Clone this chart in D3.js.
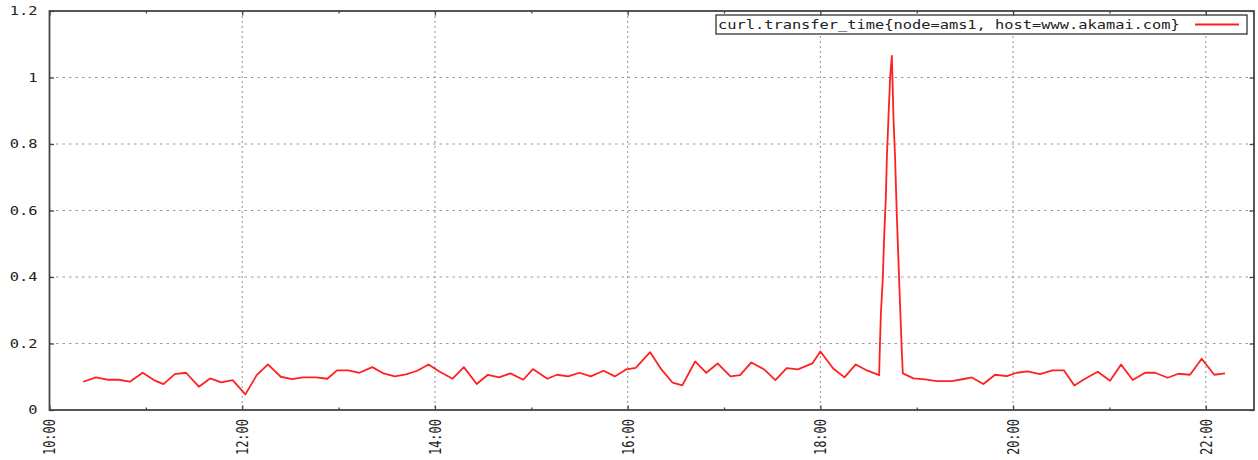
<!DOCTYPE html>
<html>
<head>
<meta charset="utf-8">
<script src="https://cdn.jsdelivr.net/npm/d3@7"></script>
<style>
  html, body { margin: 0; padding: 0; background: #fff; }
  svg { display: block; }
  text { font-family: "DejaVu Sans Mono", monospace; font-size: 12px; fill: #222; }
</style>
</head>
<body>
<svg id="chart" width="1258" height="460"></svg>
<script>
// ---- data ----
const seriesName = "curl.transfer_time{node=ams1, host=www.akamai.com}";
const times = [
  "10:21","10:29","10:36","10:43","10:50","10:58","11:05","11:11","11:18","11:25",
  "11:33","11:40","11:47","11:54","12:02","12:09","12:16","12:24","12:31","12:38",
  "12:46","12:53","12:59","13:06","13:13","13:21","13:28","13:35","13:42","13:49",
  "13:56","14:03","14:11","14:18","14:26","14:33","14:40","14:47","14:55","15:01",
  "15:10","15:16","15:23","15:30","15:37","15:45","15:52","15:59","16:05","16:14",
  "16:21","16:28","16:34","16:42","16:49","16:56","17:04","17:10","17:17","17:25",
  "17:32","17:39","17:46","17:55","18:00","18:08","18:15","18:22","18:29","18:36:36",
  "18:36:54","18:37:38","18:38:54","18:39:42","18:40:46","18:41:24","18:42:24","18:43:26","18:44:30","18:44:52",
  "18:45:30","18:46:32","18:47:36","18:48:36","18:49:40","18:50:43","18:51:20","18:57:56","19:05:14","19:12:30",
  "19:21:50","19:30:06","19:34:17","19:41:30","19:48:48","19:56:06","20:02:18","20:08:54","20:16:48","20:24:28",
  "20:31:44","20:38:08","20:44:48","20:52:42","21:00:22","21:07:14","21:14:30","21:22:10","21:28:24","21:36:18",
  "21:42:54","21:50:10","21:57:26","22:05:16","22:11:56"
];
const values = [
  0.085,0.098,0.091,0.091,0.085,0.112,0.090,0.078,0.108,0.112,
  0.070,0.095,0.083,0.090,0.047,0.105,0.137,0.100,0.093,0.098,
  0.098,0.094,0.119,0.119,0.112,0.129,0.110,0.101,0.107,0.118,
  0.137,0.115,0.094,0.129,0.078,0.106,0.098,0.110,0.091,0.123,
  0.094,0.106,0.101,0.112,0.101,0.118,0.101,0.122,0.127,0.174,
  0.122,0.082,0.074,0.146,0.112,0.140,0.101,0.105,0.143,0.122,
  0.090,0.126,0.122,0.140,0.176,0.125,0.098,0.137,0.119,0.105,
  0.165,0.285,0.400,0.520,0.640,0.760,0.880,1.000,1.065,1.000,
  0.880,0.755,0.585,0.450,0.310,0.175,0.110,0.095,0.092,0.087,
  0.087,0.094,0.098,0.078,0.106,0.102,0.112,0.116,0.108,0.119,
  0.119,0.074,0.094,0.115,0.088,0.137,0.090,0.112,0.112,0.097,
  0.109,0.106,0.154,0.106,0.110
];
const xDomain = ["10:00", "22:30"];
const xMajorTicks = ["10:00","12:00","14:00","16:00","18:00","20:00","22:00"];
const xMinorTicks = ["11:00","13:00","15:00","17:00","19:00","21:00"];
const yTicks = [0, 0.2, 0.4, 0.6, 0.8, 1, 1.2];
const yDomain = [0, 1.2];

// ---- chart ----
const parseFull = d3.timeParse("%H:%M:%S");
const parseT = s => parseFull(s.length === 5 ? s + ":00" : s);
const data = times.map((t, i) => ({ t: parseT(t), v: values[i] }));

const L = 49.5, R = 1254, T = 11, B = 410;
const SX = 1.28; // horizontal stretch of the reference's text

const svg = d3.select("#chart");
const x = d3.scaleTime().domain(xDomain.map(parseT)).range([L, R]);
const y = d3.scaleLinear().domain(yDomain).range([B, T]);

// grid
const grid = svg.append("g").attr("stroke", "#9a9a9a").attr("stroke-width", 1.1);
grid.selectAll("line.h").data(yTicks.filter(v => v > 0 && v < 1.2)).join("line")
  .attr("x1", L).attr("x2", R).attr("y1", d => y(d)).attr("y2", d => y(d))
  .attr("stroke-dasharray", "2.5,4");
grid.selectAll("line.v").data(xMajorTicks.slice(1).map(parseT)).join("line")
  .attr("x1", d => x(d)).attr("x2", d => x(d)).attr("y1", T).attr("y2", B)
  .attr("stroke-dasharray", "2,3");

// legend box (opaque)
const lg = svg.append("g");
lg.append("rect").attr("x", 716).attr("y", 15).attr("width", 531).attr("height", 19)
  .attr("fill", "#fff").attr("stroke", "#333").attr("stroke-width", 1.3);
lg.append("text").attr("transform", `translate(718,29) scale(${SX},1)`).text(seriesName);
lg.append("line").attr("x1", 1195).attr("x2", 1239).attr("y1", 24.5).attr("y2", 24.5)
  .attr("stroke", "#ff2020").attr("stroke-width", 1.8);

// axes
const axColor = "#444";
const yAxis = svg.append("g").attr("transform", `translate(${L},0)`)
  .call(d3.axisLeft(y).tickValues(yTicks).tickFormat(d3.format("")).tickSizeInner(-4.5).tickSizeOuter(0).tickPadding(12));
yAxis.select(".domain").remove();
yAxis.selectAll(".tick line").attr("stroke", axColor).attr("stroke-width", 1.3);
yAxis.selectAll(".tick text").attr("x", -12 / SX).attr("transform", `scale(${SX},1)`)
  .attr("font-family", null).attr("font-size", null).attr("fill", "#222");
yAxis.attr("font-family", null).attr("font-size", null);

const yAxisR = svg.append("g").attr("transform", `translate(${R},0)`)
  .call(d3.axisRight(y).tickValues(yTicks).tickFormat("").tickSizeInner(-4.5).tickSizeOuter(0));
yAxisR.select(".domain").remove();
yAxisR.selectAll(".tick line").attr("stroke", axColor).attr("stroke-width", 1.3);

const xAxis = svg.append("g").attr("transform", `translate(0,${B})`)
  .call(d3.axisBottom(x).tickValues(xMajorTicks.map(parseT)).tickFormat(d3.timeFormat("%H:%M"))
    .tickSizeInner(-4.5).tickSizeOuter(0).tickPadding(8));
xAxis.select(".domain").remove();
xAxis.attr("font-family", null).attr("font-size", null);
xAxis.selectAll(".tick line").attr("stroke", axColor).attr("stroke-width", 1.3);
xAxis.selectAll(".tick text")
  .attr("transform", `scale(${SX},1) rotate(-90)`)
  .attr("text-anchor", "end").attr("x", -9).attr("y", 0).attr("dy", "0.35em")
  .attr("fill", "#222");

const xMinor = svg.append("g").attr("transform", `translate(0,${B})`)
  .call(d3.axisBottom(x).tickValues(xMinorTicks.map(parseT)).tickFormat("").tickSizeInner(-2.5).tickSizeOuter(0));
xMinor.select(".domain").remove();
xMinor.selectAll(".tick line").attr("stroke", axColor).attr("stroke-width", 1.3);

const xTop = svg.append("g").attr("transform", `translate(0,${T})`)
  .call(d3.axisTop(x).tickValues(xMajorTicks.map(parseT)).tickFormat("").tickSizeInner(-4.5).tickSizeOuter(0));
xTop.select(".domain").remove();
xTop.selectAll(".tick line").attr("stroke", axColor).attr("stroke-width", 1.3);
const xTopMinor = svg.append("g").attr("transform", `translate(0,${T})`)
  .call(d3.axisTop(x).tickValues(xMinorTicks.map(parseT)).tickFormat("").tickSizeInner(-2.5).tickSizeOuter(0));
xTopMinor.select(".domain").remove();
xTopMinor.selectAll(".tick line").attr("stroke", axColor).attr("stroke-width", 1.3);

// series line
svg.append("path").datum(data)
  .attr("fill", "none").attr("stroke", "#ff2020").attr("stroke-width", 1.8)
  .attr("stroke-linejoin", "round")
  .attr("d", d3.line().x(d => x(d.t)).y(d => y(d.v)));

// frame
svg.append("rect").attr("x", L).attr("y", T).attr("width", R - L).attr("height", B - T)
  .attr("fill", "none").attr("stroke", axColor).attr("stroke-width", 1.8);
</script>
</body>
</html>
